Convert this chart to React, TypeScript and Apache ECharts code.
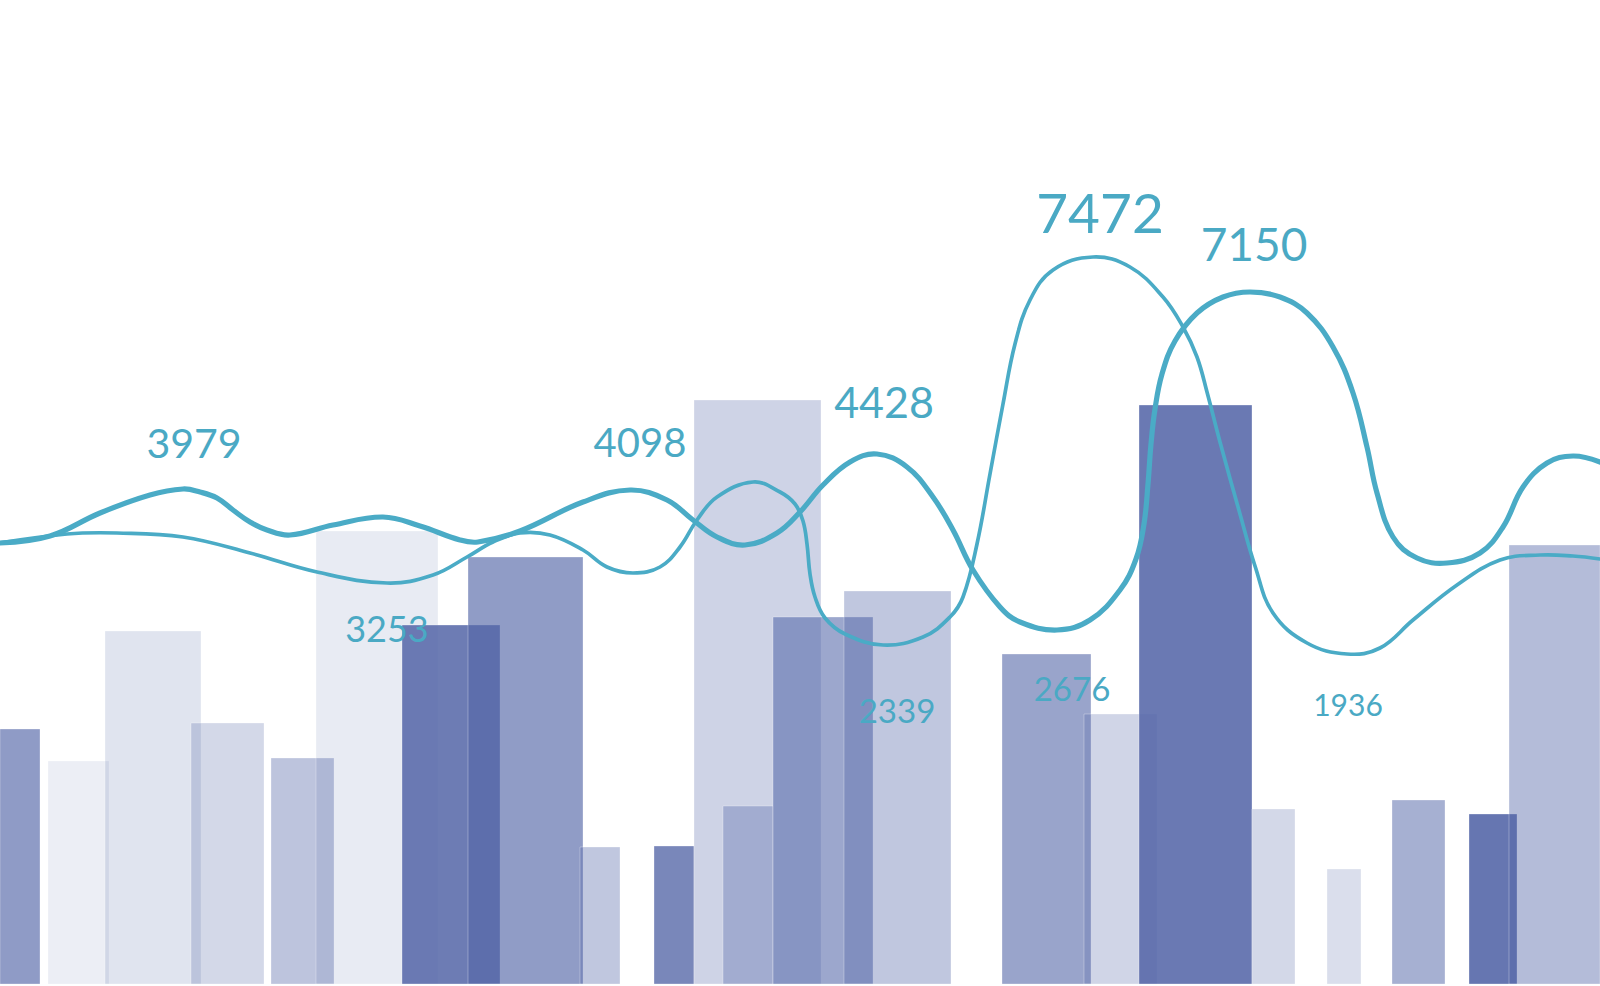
import React, { useEffect, useRef } from "react";
import * as echarts from "echarts";

// ---- Bars: left edge, right edge (position units), height (value units) ----
const barStart = [0, 48, 105, 191, 271, 316, 402, 468, 580, 654, 694, 723, 773, 844, 1002, 1084, 1139, 1252, 1327, 1392, 1469, 1509];
const barEnd = [40, 109, 201, 264, 334, 438, 500, 583, 620, 694, 821, 773, 873, 951, 1091, 1157, 1252, 1295, 1361, 1445, 1517, 1600];
const barValue = [255, 223, 353, 261, 226, 453, 359, 427, 137, 138, 584, 178, 367, 393, 330, 270, 579, 175, 115, 184, 170, 439];

// ---- Line A (thick): x positions and values ----
const lineAX = [0, 50, 100, 150, 183, 200, 217, 233, 250, 267, 290, 333, 383, 420, 460, 478, 520, 583, 630, 667, 693, 717, 745, 777, 800, 823, 850, 877, 907, 933, 953, 973, 1000, 1020, 1057, 1090, 1120, 1136, 1144, 1148, 1151, 1155, 1162, 1175, 1197, 1223, 1250, 1280, 1307, 1333, 1353, 1367, 1377, 1393, 1417, 1447, 1480, 1503, 1523, 1547, 1573, 1600];
const lineAY = [441, 448, 471, 489, 495, 492, 486, 474, 462, 454, 449, 459, 467, 458, 444, 442, 453, 482, 494, 484, 464, 447, 439, 451, 472, 499, 522, 530, 517, 487, 454, 414, 377, 362, 354, 364, 394, 425, 460, 500, 540, 575, 610, 643, 671, 687, 692, 687, 671, 637, 591, 537, 491, 447, 426, 421, 431, 457, 497, 521, 528, 522];
const lineALabelIndex = [4, 18, 27, 34, 46];
const lineALabelText = ["3979", "4098", "4428", "2676", "7150"];

// ---- Line B (thin) ----
const lineBX = [0, 67, 117, 183, 250, 317, 387, 433, 467, 493, 520, 550, 583, 607, 633, 660, 680, 697, 717, 753, 780, 795, 803, 807, 810, 815, 825, 845, 883, 923, 950, 963, 977, 990, 1003, 1015, 1030, 1053, 1093, 1130, 1163, 1183, 1197, 1207, 1220, 1240, 1255, 1273, 1307, 1347, 1380, 1413, 1457, 1500, 1540, 1573, 1600];
const lineBY = [441, 450, 451, 447, 431, 412, 401, 409, 427, 442, 451, 449, 434, 417, 411, 417, 437, 464, 487, 502, 492, 480, 463, 440, 410, 387, 366, 350, 339, 347, 367, 387, 440, 510, 580, 640, 684, 714, 727, 717, 687, 657, 627, 592, 542, 470, 418, 371, 341, 330, 336, 364, 399, 424, 429, 428, 425];
const lineBLabelIndex = [6, 28, 38, 49];
const lineBLabelText = ["3253", "2339", "7472", "1936"];

// ---- Styles (kept apart from data) ----
const BAR_RGB = "85,103,168";
const barAlpha = [0.66, 0.11, 0.18, 0.26, 0.39, 0.135, 0.86, 0.65, 0.37, 0.79, 0.29, 0.36, 0.58, 0.37, 0.6, 0.28, 0.88, 0.26, 0.22, 0.52, 0.9, 0.44];
const LINE_COLOR = "#4aabc6";
const LABEL_COLOR = "#4aa9c4";
const LINE_A_WIDTH = 5.2;
const LINE_B_WIDTH = 3.7;
const SMOOTH = 0.4;
const lineALabelOffset = [[11, -47], [10, -48], [7, -53], [15, 58], [4, -49]];
const lineALabelSize = [41, 40, 43, 33, 46];
const lineBLabelOffset = [[0, 45], [14, 65], [7, -45], [1, 50]];
const lineBLabelSize = [36, 33, 55, 30];

function smoothLineSeries(xs: number[], ys: number[], width: number) {
  return {
    type: "custom",
    silent: true,
    encode: { x: 0, y: 1 },
    data: xs.map((x, i) => [x, ys[i]]),
    renderItem: (params: any, api: any) => {
      if (params.dataIndex !== 0) return null;
      const pts = xs.map((x, i) => api.coord([x, ys[i]]));
      return {
        type: "polyline",
        shape: { points: pts, smooth: SMOOTH },
        style: { stroke: LINE_COLOR, lineWidth: width, fill: null, lineJoin: "round", lineCap: "round" },
      };
    },
    z: 3,
  };
}

export default function App() {
  const ref = useRef<HTMLDivElement>(null);

  useEffect(() => {
    if (!ref.current) return;
    const chart = echarts.init(ref.current, undefined, { renderer: "svg" });

    const barData = barStart.map((s, i) => [s, barEnd[i], barValue[i], i]);

    const labelData: any[] = [];
    lineALabelIndex.forEach((idx, k) => {
      labelData.push([lineAX[idx], lineAY[idx], lineALabelText[k], lineALabelOffset[k][0], lineALabelOffset[k][1], lineALabelSize[k]]);
    });
    lineBLabelIndex.forEach((idx, k) => {
      labelData.push([lineBX[idx], lineBY[idx], lineBLabelText[k], lineBLabelOffset[k][0], lineBLabelOffset[k][1], lineBLabelSize[k]]);
    });

    chart.setOption({
      animation: false,
      backgroundColor: "#ffffff",
      grid: { left: 0, right: 0, top: 0, bottom: 2 },
      xAxis: { type: "value", min: 0, max: 1600, show: false },
      yAxis: { type: "value", min: 0, max: 984, show: false },
      series: [
        {
          type: "custom",
          silent: true,
          encode: { x: [0, 1], y: 2 },
          data: barData,
          renderItem: (params: any, api: any) => {
            const i = api.value(3);
            const p0 = api.coord([api.value(0), api.value(2)]);
            const p1 = api.coord([api.value(1), 0]);
            return {
              type: "rect",
              shape: { x: p0[0], y: p0[1], width: p1[0] - p0[0], height: p1[1] - p0[1] },
              style: {
                fill: `rgba(${BAR_RGB},${barAlpha[i]})`,
                stroke: "rgba(255,255,255,0.3)",
                lineWidth: 1,
              },
            };
          },
          z: 1,
        },
        smoothLineSeries(lineBX, lineBY, LINE_B_WIDTH),
        smoothLineSeries(lineAX, lineAY, LINE_A_WIDTH),
        {
          type: "custom",
          silent: true,
          encode: { x: 0, y: 1 },
          data: labelData,
          renderItem: (params: any, api: any) => {
            const d = labelData[params.dataIndex];
            const p = api.coord([d[0], d[1]]);
            return {
              type: "text",
              x: p[0] + d[3],
              y: p[1] + d[4],
              style: {
                text: d[2],
                fontSize: d[5],
                fontFamily: "Lato",
                fill: LABEL_COLOR,
                align: "center",
                verticalAlign: "middle",
              },
            };
          },
          z: 5,
        },
      ],
    });

    return () => chart.dispose();
  }, []);

  return (
    <div
      ref={ref}
      style={{ position: "fixed", left: 0, top: 0, width: "1600px", height: "986px", background: "#fff" }}
    />
  );
}
